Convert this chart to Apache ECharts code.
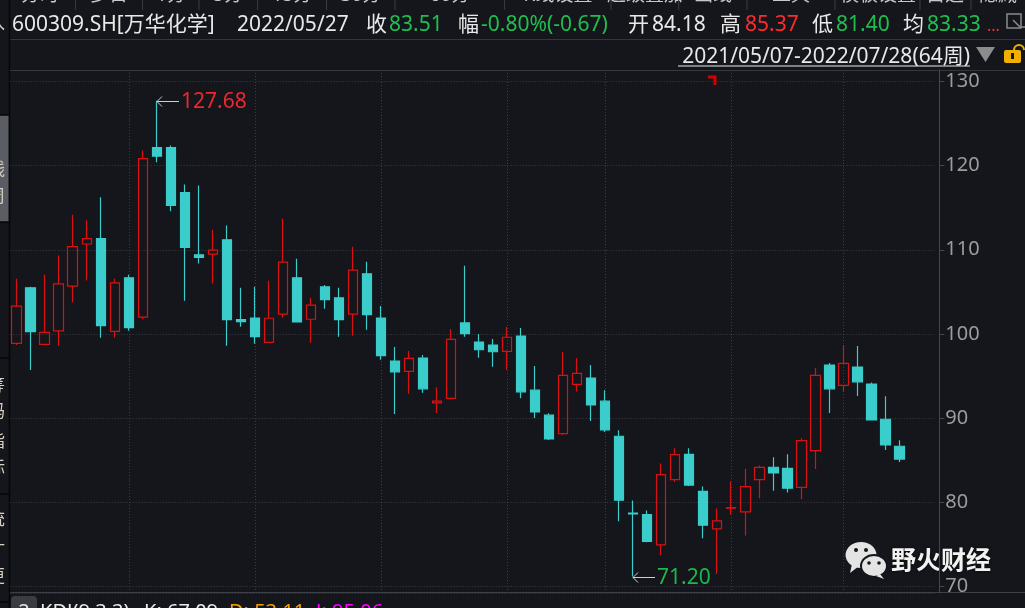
<!DOCTYPE html>
<html><head><meta charset="utf-8">
<script src="https://cdn.jsdelivr.net/npm/echarts/dist/echarts.min.js"></script>
<style>html,body{margin:0;padding:0;background:#14161b;overflow:hidden;}#c{width:1025px;height:608px;}</style>
</head><body><div id="c"></div>
<script>
// ---- data (weekly candles, 600309.SH) ----
const dates = ['2021/05/07','2021/05/14','2021/05/21','2021/05/28','2021/06/04','2021/06/11','2021/06/18','2021/06/25',
'2021/07/02','2021/07/09','2021/07/16','2021/07/23','2021/07/30','2021/08/06','2021/08/13','2021/08/20','2021/08/27',
'2021/09/03','2021/09/10','2021/09/17','2021/09/24','2021/09/30','2021/10/08','2021/10/15','2021/10/22','2021/10/29',
'2021/11/05','2021/11/12','2021/11/19','2021/11/26','2021/12/03','2021/12/10','2021/12/17','2021/12/24','2021/12/31',
'2022/01/07','2022/01/14','2022/01/21','2022/01/28','2022/02/11','2022/02/18','2022/02/25','2022/03/04','2022/03/11',
'2022/03/18','2022/03/25','2022/04/01','2022/04/08','2022/04/15','2022/04/22','2022/04/29','2022/05/06','2022/05/13',
'2022/05/20','2022/05/27','2022/06/02','2022/06/10','2022/06/17','2022/06/24','2022/07/01','2022/07/08','2022/07/15',
'2022/07/22','2022/07/28'];
const emptySlots = ['', ' '];
const opens  = [98.89,105.48,98.77,100.36,105.68,110.68,111.31,100.32,106.67,101.99,122.14,122.14,116.79,109.40,109.49,111.19,
101.70,101.90,99.01,102.35,106.67,101.75,105.60,104.29,102.35,107.14,101.90,96.79,95.56,97.14,91.82,92.35,101.31,99.05,
98.69,97.94,99.76,93.33,90.36,88.18,94.01,94.76,92.02,87.86,78.73,78.57,74.96,82.70,85.71,81.31,76.87,79.32,78.89,82.70,
84.18,84.05,81.79,86.15,96.31,93.89,96.07,94.05,89.88,86.67];
const closes = [103.30,100.27,100.20,105.95,110.36,111.31,100.99,106.07,100.75,120.83,121.11,115.27,110.27,109.08,109.96,101.70,
101.46,99.68,101.87,108.54,101.43,103.42,104.08,101.70,107.58,102.30,97.42,95.51,97.11,93.49,92.02,99.37,100.04,98.13,
97.89,99.61,93.13,90.75,87.54,95.08,95.32,91.58,88.61,80.27,78.65,75.39,83.30,85.68,82.06,77.30,77.82,79.40,81.87,84.17,
83.51,81.70,87.35,95.08,93.49,96.51,94.32,89.80,86.82,85.15];
const lows   = [98.70,95.71,98.70,98.61,103.77,106.35,99.56,99.56,100.39,101.79,120.39,114.56,103.96,108.37,105.99,98.61,
100.87,98.85,99.00,101.94,101.35,98.96,103.01,99.68,99.80,100.51,96.94,90.51,92.89,93.01,90.63,92.30,99.68,97.18,
96.11,95.71,92.38,90.04,87.42,88.01,93.18,89.68,88.37,77.77,71.20,75.27,73.73,82.42,81.94,75.75,71.51,78.57,76.07,80.51,
81.40,81.19,80.39,83.96,90.63,93.13,92.65,89.80,86.23,84.80];
const highs  = [106.55,105.60,107.02,109.32,114.17,113.49,116.23,106.55,107.02,121.79,127.68,122.38,117.74,117.62,112.38,112.89,
105.48,105.60,106.31,113.69,108.93,104.29,105.83,105.48,110.36,108.57,103.33,98.45,97.98,97.50,93.69,100.60,108.10,100.00,
99.40,100.83,100.71,96.19,90.60,97.86,97.14,96.31,93.33,88.57,80.24,79.05,84.61,86.43,86.43,81.90,79.29,82.50,84.01,84.40,
85.37,85.71,87.62,95.95,96.55,98.69,98.57,94.25,92.62,87.38];
const gridDates = ['2021/07/02','2021/09/03','2021/11/05','2022/01/07','2022/03/04','2022/05/06','2022/07/01'];

// header texts
const stockLabel = '600309.SH[万华化学]';
const quoteDate = '2022/05/27';
const quoteClose = '83.51', quoteChg = '-0.80%(-0.67)', quoteOpen = '84.18', quoteHigh = '85.37', quoteLow = '81.40', quoteAvg = '83.33';
const rangeLabel = '2021/05/07-2022/07/28(64周)';
const tabLabels = [['分时',40],['多日',109],['1分',171],['5分',228],['15分',292],['30分',361],['60分',450],['K线设置',558],['超级叠加',645],['画线',713],['工具',791],['模板设置',878],['自选',945],['隐藏',998]];
const tabSeps = [75.6,142.6,199,257.6,326.5,395,504.6,611,678.7,747,835,920,971];
const kdjLabel = ['KDJ(9,3,3)','K: 67.09','D: 53.11','J: 95.06'];
const watermark = '野火财经';

// ---- styles ----
const BG = '#14161b', GRID = '#3b3e45', FRAME = '#34363c';
const UP = '#dc1010', DOWN = '#3bcccc';
const GREEN = '#1fbf4f', RED = '#ff2b2b', WHITE = '#e8e8e8';
const FF = "'Noto Sans', 'Noto Sans CJK SC', sans-serif";

const cats = dates.concat(emptySlots);
const kdata = dates.map((d, i) => [opens[i], closes[i], lows[i], highs[i]]);

const chart = echarts.init(document.getElementById('c'), null, {renderer: 'canvas'});

function T(text, x, y, fill, size, align, weight) {
  return {type: 'text', x: x, y: y, silent: true,
    style: {text: text, fill: fill, font: (weight ? weight + ' ' : '') + (size || 20) + 'px ' + FF, align: align || 'left', verticalAlign: 'middle'}};
}
function L(x1, y1, x2, y2, c, w) {
  return {type: 'line', silent: true, shape: {x1, y1, x2, y2}, style: {stroke: c, lineWidth: w || 1}};
}

const G = [];
// top tab strip (cut off)
tabLabels.forEach(t => G.push(T(t[0], t[1], -4, '#c8c8c8', 19, 'center')));
tabSeps.forEach(x => G.push(L(x, 0, x, 10, '#3a3c42')));
// frame lines
G.push(L(9, 39.5, 1025, 39.5, FRAME));
G.push(L(9, 70.5, 1025, 70.5, FRAME));
G.push(L(9, 592.5, 1025, 592.5, '#3e4047'));
G.push(L(9.5, 0, 9.5, 608, '#050607', 1.5));
// left sidebar
G.push({type: 'rect', silent: true, shape: {x: 0, y: 115, width: 8.5, height: 107}, style: {fill: '#5b5d64'}});
[115, 222, 358, 494, 602].forEach(y => G.push(L(0, y, 9, y, '#050607', 1.5)));
[['入',24],['线',170],['周',197],['筹',386],['码',412],['指',442],['标',468],['统',520],['计',548],['更',577]].forEach(t =>
  G.push(T(t[0], -12, t[1], '#d8d0c0', 17, 'left')));
// header
const HY = 25, HS = 21;
G.push(T(stockLabel, 12, HY, WHITE, HS));
G.push(T(quoteDate, 237, HY, WHITE, HS));
G.push(T('收', 366, HY, WHITE, HS));
G.push(T(quoteClose, 389, HY, GREEN, HS));
G.push(T('幅', 458, HY, WHITE, HS));
G.push(T(quoteChg, 481, HY, GREEN, HS));
G.push(T('开', 628, HY, WHITE, HS));
G.push(T(quoteOpen, 652, HY, WHITE, HS));
G.push(T('高', 720, HY, WHITE, HS));
G.push(T(quoteHigh, 745, HY, RED, HS));
G.push(T('低', 812, HY, WHITE, HS));
G.push(T(quoteLow, 836, HY, GREEN, HS));
G.push(T('均', 903, HY, WHITE, HS));
G.push(T(quoteAvg, 927, HY, GREEN, HS));
G.push(T('...', 987, 26, RED, 16));
G.push({type: 'rect', silent: true, shape: {x: 1007, y: 14, width: 14, height: 14}, style: {fill: 'none', stroke: '#8a8a8a', lineWidth: 1.5}});
G.push({type: 'polyline', silent: true, shape: {points: [[1013, 20], [1020, 27], [1025, 27]]}, style: {stroke: '#8a8a8a', lineWidth: 1.5, fill: 'none'}});
// range line
G.push(T(rangeLabel, 970, 57, WHITE, 21, 'right'));
G.push(L(678, 66, 970, 66, WHITE));
G.push({type: 'polygon', silent: true, shape: {points: [[976, 47], [995, 47], [985.5, 62]]}, style: {fill: '#8c8c8c'}});
G.push({type: 'rect', silent: true, shape: {x: 1004, y: 50, width: 17, height: 13, r: 2}, style: {fill: '#f0b000'}});
G.push({type: 'arc', silent: true, shape: {cx: 1019, cy: 50, r: 5, startAngle: Math.PI, endAngle: 2 * Math.PI}, style: {stroke: '#f0b000', lineWidth: 2, fill: 'none'}});
G.push({type: 'rect', silent: true, shape: {x: 1011, y: 53, width: 3, height: 6}, style: {fill: '#1a1a1a'}});
// red marker at top
G.push({type: 'polyline', silent: true, shape: {points: [[708, 77], [715, 77], [715, 85]]}, style: {stroke: '#d40000', lineWidth: 3, fill: 'none'}});
// KDJ sub-panel title
G.push({type: 'rect', silent: true, shape: {x: 11, y: 596, width: 26, height: 30, r: 4}, style: {fill: '#3a3c42'}});
G.push(T('2', 24, 612, WHITE, 20, 'center'));
G.push(T(kdjLabel[0], 40, 612, WHITE, 20));
G.push(T(kdjLabel[1], 144, 612, WHITE, 20));
G.push(T(kdjLabel[2], 229, 612, '#f0a000', 20));
G.push(T(kdjLabel[3], 316, 612, '#ff00ff', 20));
// watermark
const wmText = T(watermark, 891, 562, '#f2f2f2', 25, 'left', 'bold');
wmText.style.textShadowColor = 'rgba(0,0,0,0.7)';
wmText.style.textShadowBlur = 3;
G.push({type: 'group', silent: true, z: 50, children: [
  {type: 'ellipse', shape: {cx: 861, cy: 555, rx: 15.5, ry: 13}, style: {fill: '#e4e4e4'}},
  {type: 'polygon', shape: {points: [[852, 564], [850, 573], [859, 566]]}, style: {fill: '#e4e4e4'}},
  {type: 'circle', shape: {cx: 856, cy: 550, r: 2}, style: {fill: BG}},
  {type: 'circle', shape: {cx: 866, cy: 550, r: 2}, style: {fill: BG}},
  {type: 'ellipse', shape: {cx: 874, cy: 566, rx: 13, ry: 11}, style: {fill: '#e4e4e4', stroke: BG, lineWidth: 2}},
  {type: 'polygon', shape: {points: [[880, 574], [884, 579], [876, 576]]}, style: {fill: '#e4e4e4'}},
  {type: 'circle', shape: {cx: 869, cy: 563, r: 1.8}, style: {fill: BG}},
  {type: 'circle', shape: {cx: 879, cy: 563, r: 1.8}, style: {fill: BG}},
  wmText
]});

const option = {
  backgroundColor: BG,
  animation: false,
  grid: {left: 9.7, right: 90.6, top: 70, bottom: 15, containLabel: false},
  xAxis: {
    type: 'category', data: cats, boundaryGap: true,
    axisLine: {show: false}, axisTick: {show: false}, axisLabel: {show: false}, splitLine: {show: false}
  },
  yAxis: {
    type: 'value', position: 'right', min: 69.25, max: 131.34, minInterval: 10, maxInterval: 10, offset: 4.9,
    axisLine: {show: true, lineStyle: {color: '#45474e'}},
    axisTick: {show: true, length: 5, lineStyle: {color: '#45474e'}},
    axisLabel: {color: '#9c9c9c', fontSize: 20, fontFamily: FF, margin: 6, showMinLabel: false, showMaxLabel: false,
      formatter: v => (Math.abs(v / 10 - Math.round(v / 10)) < 1e-6 ? String(Math.round(v)) : '')},
    splitLine: {show: true, lineStyle: {color: GRID, type: [1, 2], width: 1}}
  },
  series: [{
    type: 'candlestick', data: kdata, barWidth: 10, z: 3,
    itemStyle: {color: 'transparent', color0: DOWN, borderColor: UP, borderColor0: DOWN, borderWidth: 1.2},
    markLine: {
      silent: true, z: 1, symbol: ['none', 'none'], label: {show: false}, animation: false,
      lineStyle: {color: GRID, type: [1, 2], width: 1},
      emphasis: {disabled: true},
      data: gridDates.map(d => ({xAxis: d}))
    }
  }],
  graphic: G
};
chart.setOption(option);

// annotations of highest high / lowest low, placed through the chart's scales
const hiIdx = highs.indexOf(Math.max(...highs));
const loIdx = lows.indexOf(Math.min(...lows));
const pHi = chart.convertToPixel({gridIndex: 0}, [hiIdx, highs[hiIdx]]);
const pLo = chart.convertToPixel({gridIndex: 0}, [loIdx, lows[loIdx]]);
function arrowNote(p, text, color) {
  const x = Math.round(p[0]), y = Math.round(p[1]) + 0.5;
  return {type: 'group', silent: true, children: [
    L(x, y, x + 22, y, '#cfcfcf'),
    {type: 'polyline', shape: {points: [[x + 5, y - 5], [x, y], [x + 5, y + 5]]}, style: {stroke: '#cfcfcf', lineWidth: 1, fill: 'none'}},
    T(text, x + 24, y + 1, color, 21)
  ]};
}
chart.setOption({graphic: G.concat([
  arrowNote(pHi, highs[hiIdx].toFixed(2), '#f0262e'),
  arrowNote(pLo, lows[loIdx].toFixed(2), '#1db84c')
])});
</script></body></html>
